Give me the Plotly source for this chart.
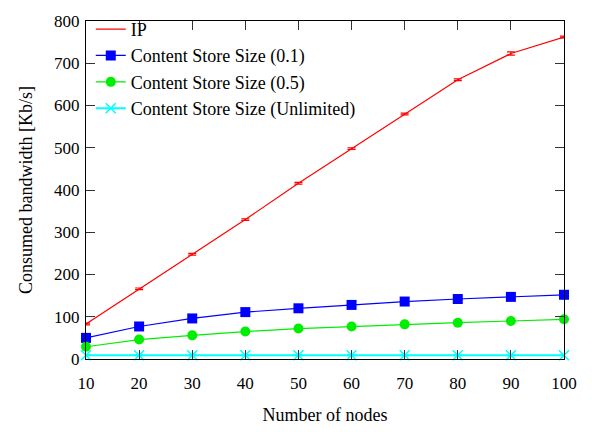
import plotly.graph_objects as go

nodes = [10, 20, 30, 40, 50, 60, 70, 80, 90, 100]
ip = [83, 166, 248, 330, 416, 498, 580, 661, 723, 762]
ip_err = [2, 2, 2, 2, 2, 2, 2, 2, 4, 2]
cs_01 = [50, 77, 96, 111, 120, 128, 136, 142, 147, 152]
cs_05 = [29, 46, 56, 65, 72, 77, 82, 86, 90, 94]
cs_unl = [9, 9, 9, 9, 9, 9, 9, 9, 9, 9]
y_ticks = [0, 100, 200, 300, 400, 500, 600, 700, 800]

FONT = "'Liberation Serif', 'Times New Roman', Times, serif"

series = [
    ("IP", ip, "#ff0000", dict(symbol="line-ew", size=2), ip_err, 1.2),
    ("Content Store Size (0.1)", cs_01, "#0000ff", dict(symbol="square", size=10), None, 1.2),
    ("Content Store Size (0.5)", cs_05, "#00ee00", dict(symbol="circle", size=10), None, 1.2),
    ("Content Store Size (Unlimited)", cs_unl, "#00ffff",
     dict(symbol="x-thin", size=10, line=dict(width=1.5, color="#00ffff")), None, 2),
]

fig = go.Figure()
for name, vals, color, marker, err, lw in series:
    m = dict(color=color, **marker)
    if "line" not in m:
        m["line"] = dict(width=0, color=color)
    fig.add_trace(go.Scatter(
        x=nodes, y=vals, name=name, mode="lines+markers",
        line=dict(color=color, width=lw),
        marker=m,
        error_y=dict(type="data", array=err if err else [1] * len(vals),
                     color=color, thickness=1.2, width=4, visible=True),
        cliponaxis=False,
    ))

axis_common = dict(
    showline=True, linecolor="black", linewidth=1.2, mirror="allticks",
    ticks="inside", ticklen=9, tickcolor="#333333", tickwidth=1,
    showgrid=False, zeroline=False,
    tickfont=dict(family=FONT, size=17, color="black"),
)

fig.update_layout(
    width=592, height=432,
    margin=dict(l=86, r=28, t=11, b=70),
    paper_bgcolor="white", plot_bgcolor="white",
    font=dict(family=FONT, size=15, color="black"),
    xaxis=dict(range=[10, 100], tickvals=nodes, ticklabelstandoff=8,
               title=dict(text="Number of nodes", standoff=16,
                          font=dict(family=FONT, size=18)), **axis_common),
    yaxis=dict(range=[0, 800], tickvals=y_ticks, ticklabelstandoff=2,
               title=dict(text="Consumed bandwidth [Kb/s]", standoff=16,
                          font=dict(family=FONT, size=18)), **axis_common),
    legend=dict(x=0.01, y=1.03, xanchor="left", yanchor="top",
                bgcolor="rgba(0,0,0,0)",
                font=dict(family=FONT, size=18, color="black"),
                tracegroupgap=0, itemwidth=30),
    showlegend=True,
)

fig.write_html("out.html")
